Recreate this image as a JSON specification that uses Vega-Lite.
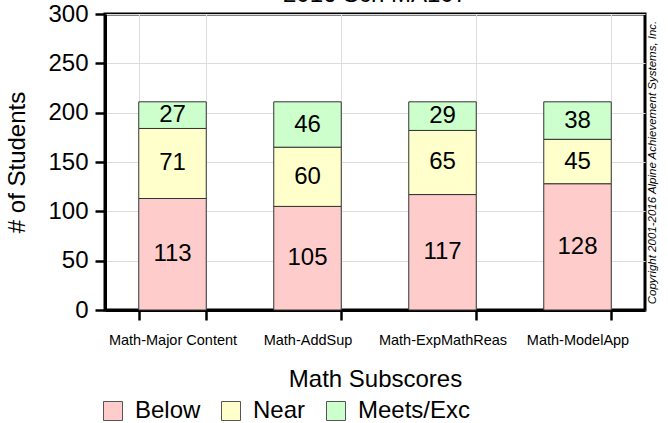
{
  "$schema": "https://vega.github.io/schema/vega-lite/v6.json",
  "width": 540,
  "height": 296,
  "autosize": {"type": "none"},
  "padding": {"left": 105, "top": 14, "right": 23, "bottom": 113},
  "title": {"text": "2016 Sch MA107", "fontSize": 24, "fontWeight": "normal", "anchor": "middle", "offset": -5, "color": "black"},
  "config": {
    "font": "Liberation Sans",
    "view": {"stroke": "black", "strokeWidth": 3},
    "axis": {"domainColor": "black", "domainWidth": 3, "tickColor": "black", "tickWidth": 2.5, "tickSize": 10, "labelColor": "black", "titleColor": "black", "gridColor": "#dddddd", "gridWidth": 1, "titleFontWeight": "normal"}
  },
  "data": {"values": [
    {"subscore": "Math-Major Content", "level": "Below", "count": 113},
    {"subscore": "Math-Major Content", "level": "Near", "count": 71},
    {"subscore": "Math-Major Content", "level": "Meets/Exc", "count": 27},
    {"subscore": "Math-AddSup", "level": "Below", "count": 105},
    {"subscore": "Math-AddSup", "level": "Near", "count": 60},
    {"subscore": "Math-AddSup", "level": "Meets/Exc", "count": 46},
    {"subscore": "Math-ExpMathReas", "level": "Below", "count": 117},
    {"subscore": "Math-ExpMathReas", "level": "Near", "count": 65},
    {"subscore": "Math-ExpMathReas", "level": "Meets/Exc", "count": 29},
    {"subscore": "Math-ModelApp", "level": "Below", "count": 128},
    {"subscore": "Math-ModelApp", "level": "Near", "count": 45},
    {"subscore": "Math-ModelApp", "level": "Meets/Exc", "count": 38}
  ]},
  "transform": [
    {"calculate": "indexof(['Below', 'Near', 'Meets/Exc'], datum.level)", "as": "levelOrder"}
  ],
  "encoding": {
    "x": {"field": "subscore", "type": "nominal",
      "sort": ["Math-Major Content", "Math-AddSup", "Math-ExpMathReas", "Math-ModelApp"],
      "scale": {"paddingInner": 0.5, "paddingOuter": 0.25},
      "axis": {"title": "Math Subscores", "titleFontSize": 24, "titlePadding": 21, "labelAngle": 0, "labelFontSize": 14.5, "labelPadding": 13, "tickBand": "extent", "grid": true}},
    "color": {"field": "level", "type": "nominal", "sort": ["Below", "Near", "Meets/Exc"],
      "scale": {"domain": ["Below", "Near", "Meets/Exc"], "range": ["#ffcccc", "#ffffcc", "#ccffcc"]},
      "legend": {"orient": "none", "direction": "horizontal", "legendX": -4, "legendY": 385, "title": null, "labelFontSize": 24, "labelColor": "black", "symbolType": "square", "symbolSize": 361, "symbolStrokeColor": "#555555", "symbolStrokeWidth": 1, "symbolOpacity": 1, "columnPadding": 18, "labelOffset": 10}},
    "order": {"field": "levelOrder", "type": "quantitative", "sort": "ascending"}
  },
  "layer": [
    {
      "mark": {"type": "bar", "stroke": "#333333", "strokeWidth": 1},
      "encoding": {
        "y": {"field": "count", "type": "quantitative", "stack": "zero",
          "scale": {"domain": [0, 300]},
          "axis": {"title": "# of Students", "titleFontSize": 24, "titlePadding": 18, "values": [0, 50, 100, 150, 200, 250, 300], "labelFontSize": 24, "labelPadding": 7, "grid": true}}
      }
    },
    {
      "mark": {"type": "text", "fontSize": 24, "baseline": "middle", "align": "center"},
      "encoding": {
        "y": {"field": "count", "type": "quantitative", "stack": "zero", "bandPosition": 0.5,
          "axis": {"orient": "right", "title": "Copyright 2001-2016 Alpine Achievement Systems, Inc.", "titleFontSize": 11.5, "titleFontStyle": "italic", "titleAngle": 270, "titlePadding": 12, "labels": false, "ticks": false, "domain": false, "grid": false}},
        "text": {"field": "count", "type": "quantitative"},
        "fill": {"value": "black"}
      }
    }
  ],
  "resolve": {"axis": {"y": "independent"}}
}
